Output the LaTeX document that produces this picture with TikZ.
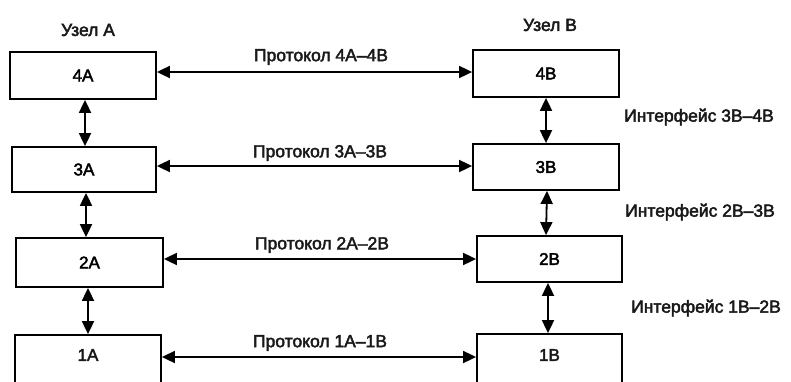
\documentclass[tikz,border=0pt]{standalone}
\usepackage{fontspec}
\setmainfont{Liberation Sans}
\newfontfamily\lblfont[FakeBold=2.5]{Liberation Sans}
\usetikzlibrary{arrows.meta,calc}
\begin{document}
\begin{tikzpicture}[x=1pt,y=-1pt,
  box/.style={draw=black,line width=1.8pt,minimum width=#1pt,inner sep=0pt,font=\lblfont\fontsize{17}{18}\selectfont},
  lbl/.style={inner sep=0pt,font=\lblfont\fontsize{17.5}{18}\selectfont,text=black!90},
  conn/.style={line width=1.8pt,{Triangle[length=13pt,width=12pt]}-{Triangle[length=13pt,width=12pt]}}]
\clip (0,0) rectangle (791,381);
\fill[white] (0,0) rectangle (791,381);
% Node A boxes
\node[box=146,minimum height=47pt] (4A) at (83,75.5) {4A};
\node[box=144,minimum height=45pt] (3A) at (84,169.5) {3A};
\node[box=147,minimum height=49pt] (2A) at (89.5,262.5) {2A};
\node[box=146,minimum height=52pt] (1A) at (88,361) {};
\node[lbl,font=\lblfont\fontsize{17}{18}\selectfont] (1Atxt) at (88,355) {1A};
% Node B boxes
\node[box=146,minimum height=47pt] (4B) at (546,73.5) {4B};
\node[box=146,minimum height=46pt] (3B) at (546,167) {3B};
\node[box=145,minimum height=46pt] (2B) at (549.5,259) {2B};
\node[box=145,minimum height=52pt] (1B) at (549.5,360) {};
\node[lbl,font=\lblfont\fontsize{17}{18}\selectfont] (1Btxt) at (549.5,355) {1B};
% titles
\node[lbl] (tA) at (88,30) {Узел A};
\node[lbl] (tB) at (550,25) {Узел B};
% vertical arrows
\draw[conn] ($(4A.south)+(2,0)$) -- ($(4A.south |- 3A.north)+(2,0)$);
\draw[conn] ($(3A.south)+(2,0)$) -- ($(3A.south |- 2A.north)+(2,0)$);
\draw[conn] (2A.south -| 88,0) -- (1A.north -| 88,0);
\draw[conn] (4B.south) -- (4B.south |- 3B.north);
\draw[conn] (3B.south -| 547,0) -- (3B.north |- 2B.north);
\draw[conn] (2B.south -| 548,0) -- (1B.north -| 548,0);
% horizontal arrows
\draw[conn] (4A.east |- 0,72) -- (4B.west |- 0,72);
\draw[conn] (3A.east |- 0,166) -- (3B.west |- 0,166);
\draw[conn] (2A.east |- 0,259) -- (2B.west |- 0,259);
\draw[conn] (1A.east |- 0,357) -- (1B.west |- 0,357);
% protocol labels
\node[lbl] (p4) at (321,57) {Протокол 4A–4B};
\node[lbl] (p3) at (320,153) {Протокол 3A–3B};
\node[lbl] (p2) at (322,245) {Протокол 2A–2B};
\node[lbl] (p1) at (320,343) {Протокол 1A–1B};
% interface labels
\node[lbl,anchor=west] (i3) at (624,117) {Интерфейс 3B–4B};
\node[lbl,anchor=west] (i2) at (625,212) {Интерфейс 2B–3B};
\node[lbl,anchor=west] (i1) at (631,308) {Интерфейс 1B–2B};
\end{tikzpicture}
\end{document}
